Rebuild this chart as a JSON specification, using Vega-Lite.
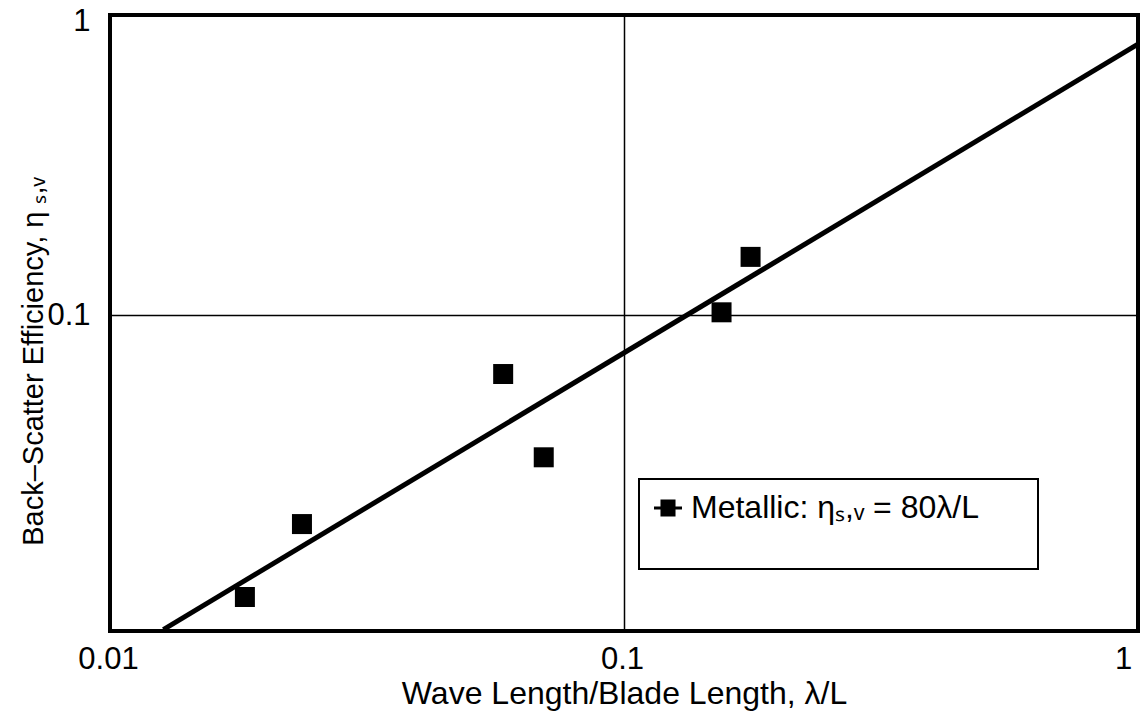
{
  "$schema": "https://vega.github.io/schema/vega-lite/v6.json",
  "width": 1028,
  "height": 616,
  "autosize": "none",
  "padding": {"left": 110, "top": 15, "right": 3, "bottom": 81},
  "background": "white",
  "config": {
    "font": "Liberation Sans",
    "view": {"stroke": "black", "strokeWidth": 4},
    "axis": {
      "domain": false,
      "ticks": false,
      "grid": true,
      "gridColor": "black",
      "gridWidth": 1.5,
      "gridOpacity": 1,
      "labelFont": "Liberation Sans",
      "labelFontSize": 31,
      "labelColor": "black",
      "labelFlush": false,
      "titleFont": "Liberation Sans",
      "titleFontSize": 32,
      "titleFontWeight": "normal",
      "titleColor": "black",
      "labelOverlap": false
    }
  },
  "datasets": {
    "points": [
      {"ratio": 0.0183, "eff": 0.01155, "series": "Metallic"},
      {"ratio": 0.02363, "eff": 0.0202, "series": "Metallic"},
      {"ratio": 0.0582, "eff": 0.0638, "series": "Metallic"},
      {"ratio": 0.0698, "eff": 0.0337, "series": "Metallic"},
      {"ratio": 0.1548, "eff": 0.1024, "series": "Metallic"},
      {"ratio": 0.1763, "eff": 0.1566, "series": "Metallic"}
    ],
    "fit": [
      {"ratio": 0.0127, "eff": 0.009, "series": "Metallic"},
      {"ratio": 1, "eff": 0.8, "series": "Metallic"}
    ]
  },
  "layer": [
    {
      "data": {"name": "fit"},
      "mark": {"type": "line", "color": "black", "strokeWidth": 5, "clip": true},
      "encoding": {
        "x": {
          "field": "ratio", "type": "quantitative",
          "scale": {"type": "log", "domain": [0.01, 1], "nice": false},
          "axis": {
            "values": [0.01, 0.1, 1],
            "format": "~g",
            "title": "Wave Length/Blade Length, λ/L",
            "labelPadding": 13,
            "titleBaseline": "alphabetic",
            "titleY": 72,
            "labelOffset": {"condition": {"test": "datum.value >= 1", "value": -15}, "value": -2}
          }
        },
        "y": {
          "field": "eff", "type": "quantitative",
          "scale": {"type": "log", "domain": [0.0089, 1], "nice": false},
          "axis": {
            "values": [0.1, 1],
            "format": "~g",
            "title": "Back–Scatter Efficiency, η ₛ,ᵥ",
            "titleFontSize": 29,
            "labelPadding": 20,
            "titleBaseline": "alphabetic",
            "titleX": -68,
            "titleY": 346,
            "labelOffset": {"condition": {"test": "datum.value >= 1", "value": 6}, "value": 0}
          }
        }
      }
    },
    {
      "data": {"name": "points"},
      "mark": {"type": "point", "shape": "square", "filled": true, "size": 400, "opacity": 1},
      "encoding": {
        "x": {"field": "ratio", "type": "quantitative"},
        "y": {"field": "eff", "type": "quantitative"},
        "color": {
          "field": "series", "type": "nominal",
          "scale": {"range": ["black"]},
          "legend": {
            "orient": "none",
            "legendX": 529,
            "legendY": 464,
            "title": " ",
            "titleOrient": "bottom",
            "titleFontSize": 22,
            "titlePadding": 11,
            "padding": 13,
            "strokeColor": "black",
            "fillColor": "white",
            "symbolType": "M-1,0H1M-0.43,-0.5H0.43V0.5H-0.43Z",
            "symbolSize": 784,
            "symbolStrokeWidth": 3,
            "symbolStrokeColor": "black",
            "symbolFillColor": "black",
            "symbolOpacity": 1,
            "labelOffset": 7,
            "labelFont": "Liberation Sans",
            "labelFontSize": 32,
            "labelColor": "black",
            "labelLimit": 800,
            "labelExpr": "'Metallic: ηₛ,ᵥ = 80λ/L\u2800\u2800'",
            "encode": {"legend": {"update": {"strokeWidth": {"value": 2}}}}
          }
        }
      }
    }
  ]
}
